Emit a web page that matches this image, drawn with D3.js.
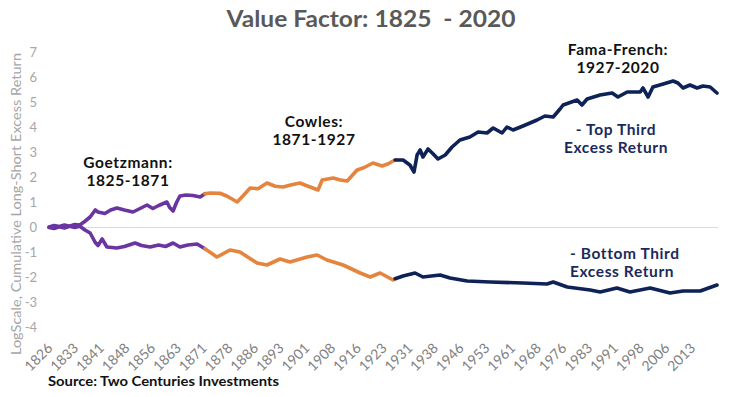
<!DOCTYPE html>
<html>
<head>
<meta charset="utf-8">
<script src="https://cdn.jsdelivr.net/npm/d3@7"></script>
<style>
    body { margin: 0; background: #fff; }
    #chart text { font-family: Lato, "Open Sans", sans-serif; }
</style>
</head>
<body>
<div id="chart"></div>
<script>
// [year, log cumulative excess return]
const goetzTop = [[1826, 0.02], [1827.5, 0.08], [1829, 0.04], [1830.5, 0.1], [1832, 0.05], [1833.5, 0.12], [1835, 0.1],
    [1836.5, 0.25], [1838, 0.42], [1839.5, 0.7], [1840.3, 0.62], [1842.3, 0.56], [1844, 0.7], [1845.8, 0.78], [1848, 0.7],
    [1850.5, 0.62], [1852, 0.72], [1854.6, 0.9], [1856.3, 0.76], [1858, 0.88], [1860.4, 1.02], [1861.2, 0.8], [1862.2, 0.66],
    [1863.2, 1.0], [1864.2, 1.26], [1866, 1.3], [1868, 1.28], [1870.1, 1.22], [1871.5, 1.35]];
const cowlesTop = [[1871.5, 1.35], [1873, 1.38], [1875.9, 1.37], [1878, 1.25], [1880.9, 1.02], [1882.5, 1.25], [1884.7, 1.58],
    [1887, 1.55], [1889.6, 1.78], [1892, 1.65], [1894.3, 1.62], [1896.5, 1.7], [1899.2, 1.78], [1901, 1.68], [1902.2, 1.62],
    [1904.5, 1.5], [1905.7, 1.9], [1908.9, 1.98], [1911, 1.9], [1913, 1.86], [1915.9, 2.3], [1918, 2.4], [1920.5, 2.58],
    [1923.2, 2.46], [1925, 2.55], [1926.4, 2.66], [1927, 2.7]];
const famaTop = [[1927, 2.7], [1929.3, 2.7], [1931.3, 2.5], [1932.5, 2.22], [1933.4, 2.9], [1934.3, 3.1], [1935.1, 2.82],
    [1936.6, 3.14], [1938.1, 2.94], [1939.5, 2.74], [1941.6, 2.9], [1943.6, 3.22], [1945.9, 3.5], [1948.8, 3.62],
    [1951.2, 3.82], [1953.8, 3.78], [1955.6, 3.98], [1958.2, 3.78], [1959.6, 4.02], [1961.4, 3.9], [1964.3, 4.06],
    [1968.4, 4.3], [1970.7, 4.46], [1973.1, 4.42], [1975.1, 4.74], [1976, 4.9], [1980.1, 5.1], [1981.5, 4.9], [1983, 5.14],
    [1986.8, 5.3], [1990.3, 5.38], [1992, 5.22], [1994.7, 5.42], [1998.5, 5.42], [1999.3, 5.58], [2000.8, 5.22],
    [2002.2, 5.62], [2005.2, 5.74], [2008.1, 5.86], [2009.5, 5.78], [2011, 5.58], [2013, 5.7], [2015.1, 5.58],
    [2016.8, 5.66], [2018.9, 5.62], [2020.9, 5.38]];

const goetzBottom = [[1826, 0.0], [1827.5, -0.04], [1829, 0.03], [1830.5, -0.02], [1832, 0.05], [1833.5, 0.0], [1835, 0.05],
    [1836.5, -0.1], [1838, -0.22], [1839.5, -0.6], [1840.3, -0.72], [1841.5, -0.46], [1842.9, -0.78], [1845.8, -0.82],
    [1848, -0.76], [1851.1, -0.62], [1853, -0.72], [1855.5, -0.78], [1858, -0.7], [1860, -0.76], [1862.2, -0.62],
    [1864.2, -0.78], [1866.5, -0.7], [1869.2, -0.66], [1871.5, -0.85]];
const cowlesBottom = [[1871.5, -0.85], [1875, -1.18], [1878.8, -0.9], [1881.7, -0.98], [1886.7, -1.42], [1889.6, -1.5],
    [1893.4, -1.26], [1896.3, -1.38], [1901.3, -1.18], [1904.2, -1.1], [1907.1, -1.3], [1911.8, -1.5], [1916.8, -1.82],
    [1919.7, -1.98], [1922.6, -1.82], [1926.4, -2.1], [1927, -2.05]];
const famaBottom = [[1927, -2.05], [1929.3, -1.94], [1932.8, -1.82], [1935.1, -1.98], [1940.1, -1.9], [1943, -2.02],
    [1948, -2.14], [1954.7, -2.18], [1964.3, -2.22], [1971.3, -2.26], [1973.1, -2.18], [1977.2, -2.38], [1983.9, -2.5],
    [1986.8, -2.58], [1991.7, -2.42], [1995.5, -2.58], [2001.4, -2.42], [2007.2, -2.62], [2011, -2.54], [2016, -2.54],
    [2020.9, -2.3]];

const xTickLabels = ["1826", "1833", "1841", "1848", "1856", "1863", "1871", "1878", "1886", "1893", "1901", "1908", "1916",
    "1923", "1931", "1938", "1946", "1953", "1961", "1968", "1976", "1983", "1991", "1998", "2006", "2013"];
const yTicks = [-4, -3, -2, -1, 0, 1, 2, 3, 4, 5, 6, 7];

const width = 740, height = 397;

const x = d3.scaleLinear().domain([1826, 2020.9]).range([49, 717]);
const y = d3.scaleLinear().domain([-4, 7]).range([327.5, 52.5]);

const svg = d3.select("#chart").append("svg")
    .attr("width", width)
    .attr("height", height);

const colors = { goetz: "#6a35a0", cowles: "#e4843f", fama: "#0f2258" };

// zero line
svg.append("line")
    .attr("x1", 48).attr("x2", 718)
    .attr("y1", y(0)).attr("y2", y(0))
    .style("stroke", "#d9d9d9")
    .style("stroke-width", 1);

// y axis labels
svg.append("g")
    .attr("transform", "translate(37,0)")
    .call(d3.axisLeft(y).tickValues(yTicks).tickSize(0).tickPadding(0).tickFormat(d => String(d)))
    .call(g => g.select(".domain").remove())
    .call(g => g.selectAll("text")
        .style("font-size", "13px")
        .style("fill", "#a6a6a6"));

// x axis labels, one every 7.5 years
const xTickVals = xTickLabels.map((d, i) => 1826 + i * 7.5);
svg.append("g")
    .attr("transform", "translate(0,349)")
    .call(d3.axisBottom(x).tickValues(xTickVals).tickSize(0).tickFormat((d, i) => xTickLabels[i]))
    .call(g => g.select(".domain").remove())
    .call(g => g.selectAll("text")
        .attr("text-anchor", "end")
        .attr("x", 0).attr("y", 0).attr("dy", 0)
        .attr("transform", "translate(4,0) rotate(-45)")
        .style("font-size", "14px")
        .style("fill", "#7f7f7f"));

svg.append("text")
    .attr("transform", "translate(21,204) rotate(-90)")
    .attr("text-anchor", "middle")
    .attr("textLength", 302)
    .attr("lengthAdjust", "spacingAndGlyphs")
    .style("font-size", "13.5px")
    .style("fill", "#a6a6a6")
    .text("LogScale, Cumulative Long-Short Excess Return");

const line = d3.line()
    .x(d => x(d[0]))
    .y(d => y(d[1]));

const segments = [
    { data: goetzTop, key: "goetz" }, { data: goetzBottom, key: "goetz" },
    { data: cowlesTop, key: "cowles" }, { data: cowlesBottom, key: "cowles" },
    { data: famaTop, key: "fama" }, { data: famaBottom, key: "fama" }
];

svg.selectAll(".line")
    .data(segments)
    .enter().append("path")
    .attr("class", "line")
    .attr("d", d => line(d.data))
    .style("fill", "none")
    .style("stroke", d => colors[d.key])
    .style("stroke-width", 3.6)
    .style("stroke-linejoin", "round")
    .style("stroke-linecap", "round");

// title
svg.append("text")
    .attr("x", 371).attr("y", 27)
    .attr("text-anchor", "middle")
    .attr("textLength", 289)
    .attr("lengthAdjust", "spacingAndGlyphs")
    .style("font-size", "23px")
    .style("font-weight", "bold")
    .style("fill", "#595959")
    .style("white-space", "pre")
    .text("Value Factor: 1825  - 2020");

const notes = [
    { x: 128, y: 168, lines: ["Goetzmann:", "1825-1871"], color: "#111", anchor: "middle" },
    { x: 314, y: 127, lines: ["Cowles:", "1871-1927"], color: "#111", anchor: "middle" },
    { x: 618, y: 55, lines: ["Fama-French:", "1927-2020"], color: "#111", anchor: "middle" },
    { x: 616, y: 135, lines: ["- Top Third", "Excess Return"], color: "#1a2a5c", anchor: "middle" },
    { x: 570, y: 259, lines: ["- Bottom Third", "Excess Return"], color: "#1a2a5c", anchor: "start" }
];

notes.forEach(n => {
    n.lines.forEach((s, i) => {
        svg.append("text")
            .attr("x", n.x).attr("y", n.y + i * 18)
            .attr("text-anchor", n.anchor)
            .style("font-size", "15.5px")
            .style("letter-spacing", "0.6px")
            .style("font-weight", "bold")
            .style("fill", n.color)
            .text(s);
    });
});

svg.append("text")
    .attr("x", 48).attr("y", 386)
    .attr("textLength", 231)
    .attr("lengthAdjust", "spacingAndGlyphs")
    .style("font-size", "14px")
    .style("font-weight", "bold")
    .style("fill", "#111")
    .text("Source: Two Centuries Investments");
</script>
</body>
</html>
